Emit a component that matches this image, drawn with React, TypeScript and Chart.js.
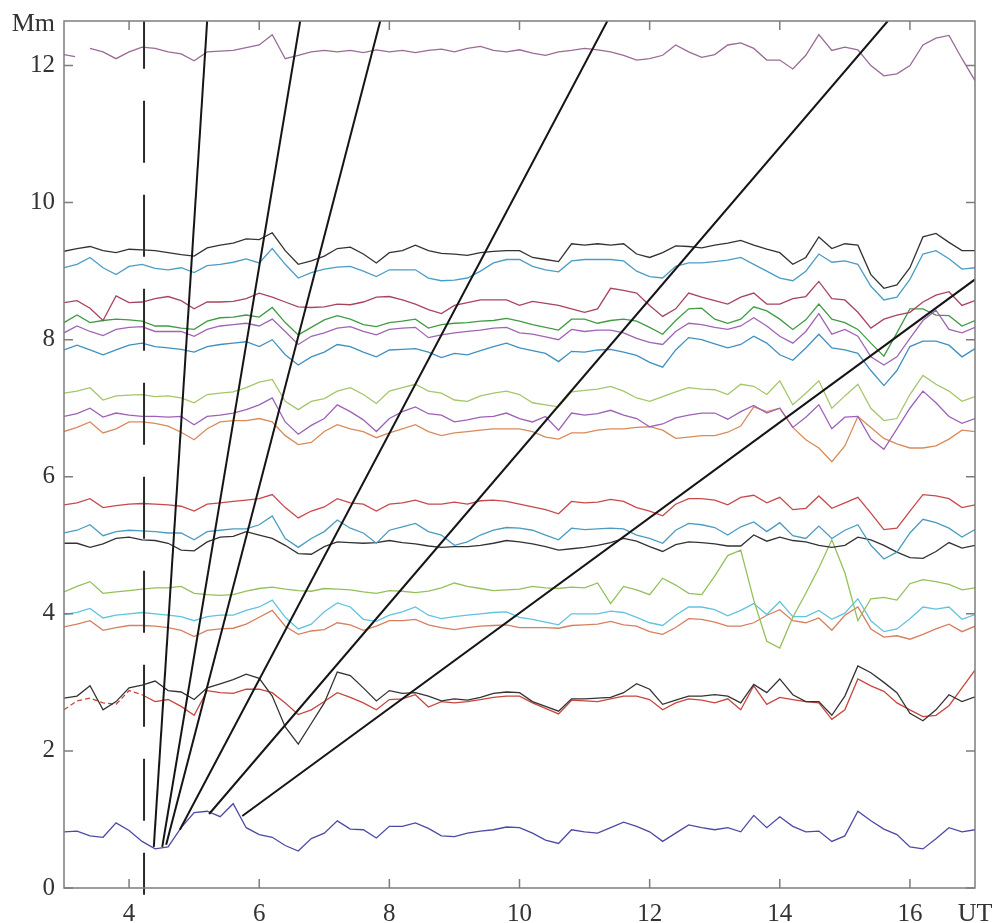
import React, { useEffect, useRef } from "react";
import { Chart, registerables } from "chart.js";

Chart.register(...registerables);

// Time axis (UT, hours)
const X = [
  3.0, 3.2, 3.4, 3.6, 3.8, 4.0, 4.2, 4.4, 4.6, 4.8,
  5.0, 5.2, 5.4, 5.6, 5.8, 6.0, 6.2, 6.4, 6.6, 6.8,
  7.0, 7.2, 7.4, 7.6, 7.8, 8.0, 8.2, 8.4, 8.6, 8.8,
  9.0, 9.2, 9.4, 9.6, 9.8, 10.0, 10.2, 10.4, 10.6, 10.8,
  11.0, 11.2, 11.4, 11.6, 11.8, 12.0, 12.2, 12.4, 12.6, 12.8,
  13.0, 13.2, 13.4, 13.6, 13.8, 14.0, 14.2, 14.4, 14.6, 14.8,
  15.0, 15.2, 15.4, 15.6, 15.8, 16.0, 16.2, 16.4, 16.6, 16.8,
  17.0,
];

const X_TICKS = [4, 6, 8, 10, 12, 14, 16];
const Y_TICKS = [0, 2, 4, 6, 8, 10, 12];
const X_UNIT = "UT";
const Y_UNIT = "Mm";
const X_UNIT_AT = 17;
const Y_UNIT_AT = 12.6;

// Heights (Mm) of the traced layers
const TOP_STUB_X = [3.0, 3.17];
const TOP_STUB_Y = [12.16, 12.13];
const MAUVE_122 = [
  12.16, null, 12.25, 12.2, 12.1, 12.2, 12.27, 12.25, 12.2, 12.17,
  12.07, 12.2, 12.21, 12.22, 12.26, 12.3, 12.45, 12.1, 12.15, 12.2,
  12.22, 12.2, 12.22, 12.19, 12.23, 12.2, 12.22, 12.19, 12.22, 12.24,
  12.2, 12.25, 12.28, 12.22, 12.2, 12.23, 12.18, 12.15, 12.2, 12.22,
  12.25, 12.23, 12.2, 12.15, 12.08, 12.1, 12.15, 12.3, 12.2, 12.12,
  12.16, 12.3, 12.33, 12.25, 12.08, 12.08, 11.95, 12.15, 12.45, 12.22,
  12.27, 12.23, 12.0, 11.85, 11.88, 12.0, 12.3, 12.4, 12.44, 12.1,
  11.78,
];
const BLACK_93 = [
  9.29, 9.33, 9.36, 9.3, 9.27, 9.32, 9.31, 9.3, 9.27, 9.24,
  9.22, 9.34, 9.38, 9.41, 9.47, 9.46, 9.56, 9.3, 9.1, 9.15,
  9.22, 9.33, 9.35, 9.25, 9.12, 9.27, 9.3, 9.38, 9.3, 9.26,
  9.25, 9.23, 9.27, 9.29, 9.3, 9.3, 9.2, 9.17, 9.14, 9.4,
  9.38, 9.4, 9.38, 9.4, 9.25, 9.2, 9.27, 9.37, 9.36, 9.34,
  9.38, 9.41, 9.45, 9.38, 9.32, 9.27, 9.1, 9.2, 9.5, 9.33,
  9.4, 9.38, 8.95, 8.75, 8.8, 9.05, 9.5, 9.55, 9.42, 9.3,
  9.3,
];
const STEEL_91 = [
  9.05, 9.1, 9.2, 9.05, 8.95, 9.07, 9.1, 9.04, 9.02, 9.05,
  8.98, 9.08, 9.1, 9.13, 9.18, 9.12, 9.33, 9.1, 8.9, 8.98,
  9.03, 9.06, 9.07, 9.0, 8.92, 9.02, 9.02, 9.02, 8.9, 8.86,
  8.87, 8.9, 9.0, 9.12, 9.17, 9.17, 9.07, 9.02, 8.99, 9.15,
  9.17, 9.17, 9.17, 9.15, 9.0, 8.92, 8.9, 9.07, 9.12, 9.12,
  9.14, 9.16, 9.2, 9.1, 9.0, 8.9, 8.86, 9.0, 9.25, 9.13,
  9.15, 9.1, 8.78, 8.58, 8.62, 8.88, 9.25, 9.3, 9.18, 9.03,
  9.05,
];
const MAROON_85 = [
  8.54, 8.57, 8.46, 8.28, 8.64, 8.54, 8.55, 8.6, 8.63, 8.57,
  8.45, 8.55, 8.55, 8.56, 8.6, 8.68, 8.62, 8.55, 8.48, 8.47,
  8.48, 8.52, 8.51, 8.55, 8.62, 8.63, 8.58, 8.52, 8.44, 8.38,
  8.5, 8.54, 8.58, 8.58, 8.58, 8.5, 8.56, 8.53, 8.5, 8.45,
  8.4, 8.45, 8.75, 8.72, 8.68, 8.5, 8.34, 8.45, 8.68, 8.62,
  8.57, 8.52, 8.62, 8.68, 8.52, 8.52, 8.6, 8.63, 8.85, 8.6,
  8.58, 8.4, 8.17, 8.3, 8.36, 8.4, 8.55, 8.65, 8.7, 8.5,
  8.57,
];
const GREEN_82 = [
  8.25, 8.36, 8.25, 8.28, 8.3, 8.29, 8.27, 8.2, 8.2, 8.17,
  8.15, 8.27, 8.32, 8.33, 8.36, 8.33, 8.47, 8.25, 8.07, 8.18,
  8.29, 8.35, 8.3, 8.22, 8.19, 8.25, 8.27, 8.3, 8.17, 8.22,
  8.24, 8.25, 8.27, 8.28, 8.31, 8.27, 8.22, 8.18, 8.14, 8.3,
  8.3, 8.24, 8.28, 8.3, 8.27, 8.18, 8.08, 8.28, 8.45, 8.46,
  8.3, 8.24, 8.3, 8.48, 8.42, 8.3, 8.15, 8.29, 8.52, 8.3,
  8.25, 8.15, 7.95, 7.76, 8.1, 8.45, 8.45, 8.36, 8.35, 8.2,
  8.28,
];
const PURPLE_81 = [
  8.1, 8.2, 8.12, 8.06, 8.15, 8.18, 8.19, 8.12, 8.12, 8.12,
  8.05, 8.15, 8.2, 8.22, 8.24, 8.2, 8.3, 8.12, 7.93, 8.05,
  8.1, 8.17, 8.19, 8.12, 8.07, 8.15, 8.17, 8.18, 8.03, 8.07,
  8.1, 8.12, 8.14, 8.17, 8.18, 8.1, 8.08, 8.04, 8.0, 8.15,
  8.12, 8.14, 8.14, 8.1, 8.02, 7.96, 7.93, 8.12, 8.24, 8.22,
  8.18, 8.15, 8.2, 8.32, 8.2, 8.05, 7.95, 8.12, 8.38, 8.08,
  8.15, 8.05, 7.75, 7.63, 7.75, 8.02, 8.28, 8.43, 8.15, 8.1,
  8.18,
];
const TEAL_79 = [
  7.85, 7.92, 7.85, 7.78, 7.85, 7.92, 7.95, 7.9, 7.88, 7.86,
  7.82, 7.9, 7.93, 7.95, 7.97, 7.9, 8.0, 7.78, 7.63, 7.75,
  7.82, 7.93, 7.9, 7.82, 7.75, 7.85, 7.86, 7.87, 7.82, 7.74,
  7.8, 7.78, 7.84, 7.9, 7.95, 7.88, 7.84, 7.8, 7.68, 7.83,
  7.82, 7.85, 7.86, 7.82, 7.77, 7.67, 7.6, 7.85, 8.03, 8.0,
  7.94, 7.88, 7.93, 8.05, 7.95, 7.78, 7.7, 7.88, 8.08, 7.88,
  7.85, 7.8, 7.55, 7.33, 7.55, 7.9, 7.98, 7.98, 7.92, 7.75,
  7.87,
];
const LIME_72 = [
  7.22, 7.25, 7.3, 7.12, 7.18, 7.19, 7.2, 7.17, 7.18, 7.15,
  7.08, 7.2, 7.22, 7.24, 7.3, 7.38, 7.42, 7.1, 6.98, 7.1,
  7.14, 7.25, 7.3, 7.2, 7.07, 7.25, 7.3, 7.35, 7.25, 7.22,
  7.12, 7.1, 7.18, 7.22, 7.25, 7.2, 7.08, 7.05, 7.02, 7.24,
  7.26, 7.28, 7.32, 7.25, 7.15, 7.1, 7.17, 7.24, 7.3, 7.28,
  7.27, 7.2, 7.35, 7.32, 7.2, 7.4, 7.05, 7.22, 7.4, 7.0,
  7.18, 7.35, 7.0, 6.82, 6.85, 7.2, 7.48, 7.35, 7.25, 7.1,
  7.17,
];
const PURPLE_69 = [
  6.88, 6.92, 7.0, 6.87, 6.93, 6.9, 6.88, 6.88, 6.87, 6.88,
  6.76, 6.88, 6.9, 6.93, 6.98, 7.05, 7.15, 6.8, 6.62, 6.75,
  6.85, 7.05, 6.95, 6.83, 6.66, 6.85, 6.95, 7.02, 6.92, 6.9,
  6.8, 6.83, 6.87, 6.88, 6.93, 6.85, 6.8, 6.88, 6.68, 6.93,
  6.9, 6.92, 6.97, 6.9, 6.85, 6.73, 6.77, 6.86, 6.9, 6.93,
  6.93, 6.84, 6.95, 7.04, 6.93, 7.0, 6.72, 6.87, 7.05, 6.7,
  6.87, 6.88, 6.55, 6.4, 6.7, 7.0, 7.25, 7.08, 6.88, 6.78,
  6.85,
];
const ORANGE_67 = [
  6.66, 6.72, 6.8, 6.64, 6.7, 6.8, 6.8, 6.78, 6.74, 6.65,
  6.54, 6.7, 6.8, 6.82, 6.82, 6.85, 6.8, 6.6, 6.47, 6.5,
  6.66, 6.76, 6.7, 6.66, 6.57, 6.64, 6.7, 6.76, 6.66, 6.6,
  6.64, 6.66, 6.68, 6.7, 6.7, 6.7, 6.66, 6.58, 6.55, 6.64,
  6.64, 6.68, 6.7, 6.7, 6.72, 6.73, 6.68, 6.56, 6.58, 6.6,
  6.6, 6.65, 6.74, 7.02, 6.95, 7.0, 6.72, 6.54, 6.42, 6.22,
  6.45, 6.88, 6.72, 6.56, 6.48, 6.42, 6.42, 6.45, 6.55, 6.68,
  6.66,
];
const RED_56 = [
  5.59, 5.62, 5.68, 5.55, 5.58, 5.6, 5.61, 5.6, 5.59, 5.57,
  5.5, 5.6, 5.62, 5.64, 5.66, 5.68, 5.74, 5.55, 5.4, 5.5,
  5.56, 5.68, 5.62, 5.6, 5.5, 5.6, 5.62, 5.66, 5.6, 5.6,
  5.63, 5.6, 5.65, 5.66, 5.64, 5.6, 5.56, 5.52, 5.46, 5.64,
  5.62, 5.63, 5.67, 5.64, 5.55, 5.5, 5.43, 5.6, 5.68, 5.68,
  5.66, 5.59, 5.7, 5.73, 5.62, 5.7, 5.52, 5.54, 5.72, 5.54,
  5.62, 5.7, 5.47, 5.23, 5.25, 5.5, 5.74, 5.72, 5.68, 5.55,
  5.59,
];
const TEAL_52 = [
  5.18, 5.22, 5.3, 5.14, 5.2, 5.22, 5.21, 5.2, 5.18, 5.18,
  5.08, 5.2, 5.22, 5.24, 5.24, 5.3, 5.43, 5.1, 4.97, 5.1,
  5.2, 5.37, 5.25, 5.18, 5.03, 5.22, 5.27, 5.32, 5.2, 5.15,
  5.0, 5.05, 5.15, 5.22, 5.26, 5.25, 5.22, 5.15, 5.08, 5.25,
  5.23, 5.24, 5.25, 5.24, 5.15, 5.1, 5.03, 5.22, 5.32, 5.3,
  5.26, 5.15, 5.27, 5.34, 5.2, 5.33, 5.14, 5.1, 5.28, 5.1,
  5.22, 5.3, 5.0, 4.8, 4.9, 5.18, 5.38, 5.33, 5.25, 5.12,
  5.23,
];
const BLACK_50 = [
  5.03, 5.03, 4.97, 5.02, 5.1, 5.12, 5.08, 5.07, 5.03, 4.93,
  4.92, 5.05, 5.12, 5.13, 5.2, 5.15, 5.1, 5.0, 4.88, 4.87,
  4.98, 5.05, 5.04, 5.03, 5.04, 5.07, 5.04, 5.02, 4.99, 4.97,
  4.98, 4.98, 5.0, 5.03, 5.07, 5.05, 5.02, 4.98, 4.93, 4.95,
  4.97, 5.0, 5.04, 5.1, 5.06, 4.98, 4.91, 5.01, 5.05, 5.04,
  5.02, 4.99, 4.99, 5.15, 5.06, 5.12, 5.07, 5.05, 5.0, 4.97,
  5.0, 5.12, 5.08, 5.0, 4.9, 4.82, 4.81, 4.91, 5.04, 4.96,
  5.0,
];
const LIME_43 = [
  4.32, 4.4, 4.47, 4.3, 4.32, 4.34, 4.36, 4.38, 4.38, 4.4,
  4.3, 4.28, 4.27, 4.28, 4.33, 4.37, 4.39, 4.36, 4.34, 4.33,
  4.37, 4.36, 4.35, 4.32, 4.3, 4.34, 4.33, 4.31, 4.33, 4.38,
  4.45, 4.4, 4.37, 4.34, 4.35, 4.36, 4.4, 4.38, 4.37, 4.39,
  4.38, 4.45, 4.15, 4.4, 4.35, 4.28, 4.52, 4.42, 4.3, 4.28,
  4.55, 4.85, 4.93, 4.2, 3.6, 3.5, 3.95, 4.3, 4.67, 5.08,
  4.6, 3.9, 4.22, 4.24, 4.2, 4.44, 4.5, 4.47, 4.43, 4.35,
  4.38,
];
const CYAN_40 = [
  3.99, 4.02, 4.08, 3.94, 3.98, 4.0, 4.02, 4.0, 3.98, 3.96,
  3.9, 3.96, 3.98, 3.98, 4.05, 4.1, 4.2, 3.95, 3.78, 3.85,
  4.03, 4.16, 4.1, 3.92, 3.89, 3.98, 4.03, 4.1, 3.98, 3.93,
  3.96, 3.98, 4.0, 4.02, 4.03, 3.95, 3.92, 3.88, 3.84, 4.0,
  4.0, 4.0, 4.04, 4.02, 3.95, 3.87, 3.83, 3.98, 4.1, 4.1,
  4.06, 3.97, 4.05, 4.15, 3.99, 4.18, 3.96, 3.96, 4.05, 3.92,
  4.01, 4.22, 3.9, 3.74, 3.78, 3.93, 4.1, 4.07, 4.1, 3.92,
  3.99,
];
const ORANGE_38 = [
  3.81, 3.85, 3.9, 3.76, 3.8, 3.83, 3.83, 3.82, 3.8, 3.76,
  3.67, 3.76, 3.78, 3.79, 3.85, 3.95, 4.05, 3.82, 3.7, 3.75,
  3.77, 3.87, 3.84, 3.76, 3.82, 3.9, 3.9, 3.92, 3.84, 3.8,
  3.77, 3.8, 3.82, 3.83, 3.84, 3.8, 3.8, 3.8, 3.79, 3.83,
  3.84, 3.85, 3.89, 3.84, 3.82, 3.74, 3.7, 3.8, 3.93, 3.92,
  3.88, 3.82, 3.82, 3.87, 3.98, 4.06, 3.9, 3.87, 3.94, 3.76,
  3.98, 4.1, 3.78, 3.66, 3.68, 3.63, 3.7, 3.78, 3.85, 3.74,
  3.82,
];
const BLACK_28 = [
  2.77, 2.8, 2.95, 2.6, 2.72, 2.92, 2.96, 3.02, 2.88, 2.86,
  2.75, 2.92, 2.98, 3.04, 3.12, 3.06, 2.8, 2.35, 2.1, 2.4,
  2.7, 3.15, 3.1, 2.92, 2.73, 2.88, 2.84, 2.85, 2.8, 2.73,
  2.76, 2.74, 2.78, 2.84, 2.86, 2.85, 2.72, 2.65, 2.58, 2.76,
  2.76, 2.77, 2.78, 2.85, 2.98, 2.9, 2.68, 2.74, 2.8, 2.8,
  2.82, 2.8, 2.7, 2.97, 2.85, 3.05, 2.82, 2.72, 2.72, 2.52,
  2.8, 3.24, 3.14, 3.0, 2.85, 2.55, 2.44, 2.6, 2.82, 2.72,
  2.79,
];
const RED_27 = [
  2.6, 2.73, 2.77, 2.7, 2.68, 2.88, 2.82, 2.72, 2.75, 2.65,
  2.52, 2.88, 2.85, 2.84, 2.9, 2.9, 2.85, 2.7, 2.53, 2.6,
  2.72, 2.85, 2.78, 2.7, 2.6, 2.75, 2.76, 2.82, 2.64, 2.72,
  2.7, 2.72, 2.75, 2.78, 2.8, 2.8, 2.7, 2.62, 2.54, 2.74,
  2.73, 2.72, 2.76, 2.8, 2.8, 2.75, 2.6, 2.7, 2.76, 2.74,
  2.7, 2.76, 2.6, 2.95, 2.68, 2.78, 2.75, 2.72, 2.7, 2.46,
  2.6, 3.05, 2.95, 2.87, 2.7, 2.6, 2.5, 2.52, 2.66, 2.92,
  3.18,
];
const BLUE_08 = [
  0.82, 0.83, 0.76, 0.74, 0.95, 0.84, 0.68, 0.57, 0.6, 0.88,
  1.1, 1.12, 1.04, 1.23, 0.88, 0.78, 0.74, 0.62, 0.54, 0.72,
  0.8, 0.98, 0.86, 0.85, 0.73, 0.9, 0.9, 0.95, 0.87, 0.76,
  0.75, 0.8, 0.83, 0.85, 0.89, 0.88, 0.8, 0.7, 0.65, 0.85,
  0.82, 0.8, 0.88, 0.96, 0.9, 0.82, 0.68, 0.8, 0.92, 0.88,
  0.85, 0.88, 0.82, 1.06, 0.88, 1.04, 0.9, 0.82, 0.83, 0.68,
  0.76, 1.12, 0.98, 0.86, 0.78, 0.6, 0.57, 0.72, 0.88, 0.82,
  0.85,
];

// Straight fitted lines (start at bottom, end at frame)
const RAY_X0 = [4.38, 4.51, 4.57, 4.78, 5.23, 5.74];
const RAY_Y0 = [0.6, 0.6, 0.63, 0.85, 1.08, 1.05];
const RAY_X1 = [5.2, 6.63, 7.86, 11.35, 15.66, 17.0];
const RAY_Y1 = [12.65, 12.65, 12.65, 12.65, 12.65, 8.88];

// Dashed onset marker
const ONSET_X = 4.23;
const ONSET_Y = [-0.1, 12.65];

const LAYERS: [number[], string][] = [
  [MAUVE_122, "#9a6b96"],
  [BLACK_93, "#333333"],
  [STEEL_91, "#4a9dc6"],
  [MAROON_85, "#a8445e"],
  [GREEN_82, "#3f9c45"],
  [PURPLE_81, "#a064b5"],
  [TEAL_79, "#3f90c0"],
  [LIME_72, "#a5c66a"],
  [PURPLE_69, "#9d62b8"],
  [ORANGE_67, "#d98b5a"],
  [RED_56, "#c9484c"],
  [TEAL_52, "#4a9cc0"],
  [BLACK_50, "#333333"],
  [LIME_43, "#94c05a"],
  [CYAN_40, "#62c3df"],
  [ORANGE_38, "#d6805e"],
  [BLACK_28, "#333333"],
  [RED_27, "#c8463e"],
  [BLUE_08, "#4d4aa6"],
];

const FONT = "'Liberation Serif', 'Times New Roman', serif";

export default function App() {
  const ref = useRef<HTMLCanvasElement>(null);

  useEffect(() => {
    if (!ref.current) return;
    const datasets: any[] = [];

    // vertical dashed marker (drawn on top)
    datasets.push({
      data: ONSET_Y.map((y) => ({ x: ONSET_X, y })),
      borderColor: "#2a2a2a",
      borderWidth: 2,
      borderDash: [62, 32],
      borderDashOffset: 20,
      pointRadius: 0,
      clip: false,
    });

    RAY_X0.forEach((x0, i) => {
      datasets.push({
        data: [
          { x: x0, y: RAY_Y0[i] },
          { x: RAY_X1[i], y: RAY_Y1[i] },
        ],
        borderColor: "#151515",
        borderWidth: 2,
        pointRadius: 0,
      });
    });

    LAYERS.forEach(([vals, color]) => {
      const ds: any = {
        data: X.map((x, i) => ({ x, y: vals[i] })),
        borderColor: color,
        borderWidth: 1.3,
        pointRadius: 0,
        tension: 0,
        spanGaps: false,
      };
      if (vals === RED_27) {
        ds.segment = {
          borderDash: (c: any) => (c.p0.parsed.x < 4.1 ? [5, 3] : undefined),
        };
      }
      datasets.push(ds);
    });

    datasets.push({
      data: TOP_STUB_X.map((x, i) => ({ x, y: TOP_STUB_Y[i] })),
      borderColor: "#9a6b96",
      borderWidth: 1.3,
      pointRadius: 0,
    });

    const frame = {
      id: "frame",
      afterDatasetsDraw(chart: any) {
        const { ctx, chartArea, scales } = chart;
        const { left, right, top, bottom } = chartArea;
        ctx.save();
        ctx.strokeStyle = "#7d7d7d";
        ctx.lineWidth = 1.5;
        ctx.strokeRect(left, top, right - left, bottom - top);
        ctx.beginPath();
        X_TICKS.forEach((v) => {
          const px = scales.x.getPixelForValue(v);
          ctx.moveTo(px, bottom);
          ctx.lineTo(px, bottom - 9);
          ctx.moveTo(px, top);
          ctx.lineTo(px, top + 9);
        });
        Y_TICKS.forEach((v) => {
          const py = scales.y.getPixelForValue(v);
          ctx.moveTo(left, py);
          ctx.lineTo(left + 9, py);
          ctx.moveTo(right, py);
          ctx.lineTo(right - 9, py);
        });
        ctx.stroke();
        ctx.restore();
      },
    };

    const chart = new Chart(ref.current, {
      type: "line",
      data: { datasets },
      options: {
        animation: false,
        responsive: false,
        events: [],
        layout: { padding: { left: 0, top: 21, right: 19, bottom: 0 } },
        plugins: { legend: { display: false }, tooltip: { enabled: false } },
        scales: {
          x: {
            type: "linear",
            min: 3,
            max: 17,
            grid: { display: false, drawTicks: false },
            border: { display: false },
            afterFit: (s: any) => {
              s.height = 35;
              s.paddingLeft = 0;
              s.paddingRight = 0;
            },
            afterBuildTicks: (s: any) => {
              s.ticks = [...X_TICKS, X_UNIT_AT].map((value) => ({ value }));
            },
            ticks: {
              autoSkip: false,
              maxRotation: 0,
              padding: 11,
              color: "#333",
              font: (c: any) => ({
                family: FONT,
                size: c.tick && c.tick.value === X_UNIT_AT ? 26 : 25,
              }),
              callback: (v: any) => (v === X_UNIT_AT ? X_UNIT : String(v)),
            },
          },
          y: {
            type: "linear",
            min: 0,
            max: 12.65,
            grid: { display: false, drawTicks: false },
            border: { display: false },
            afterFit: (s: any) => {
              s.width = 64;
              s.paddingTop = 0;
              s.paddingBottom = 0;
            },
            afterBuildTicks: (s: any) => {
              s.ticks = [...Y_TICKS, Y_UNIT_AT].map((value) => ({ value }));
            },
            ticks: {
              autoSkip: false,
              padding: 9,
              color: "#333",
              font: (c: any) => ({
                family: FONT,
                size: c.tick && c.tick.value === Y_UNIT_AT ? 26 : 25,
              }),
              callback: (v: any) => (v === Y_UNIT_AT ? Y_UNIT : String(v)),
            },
          },
        },
      } as any,
      plugins: [frame],
    });

    return () => chart.destroy();
  }, []);

  return (
    <div
      style={{
        position: "fixed",
        left: 0,
        top: 0,
        width: 994,
        height: 923,
        background: "#fff",
      }}
    >
      <canvas ref={ref} width={994} height={923} style={{ display: "block" }} />
    </div>
  );
}
